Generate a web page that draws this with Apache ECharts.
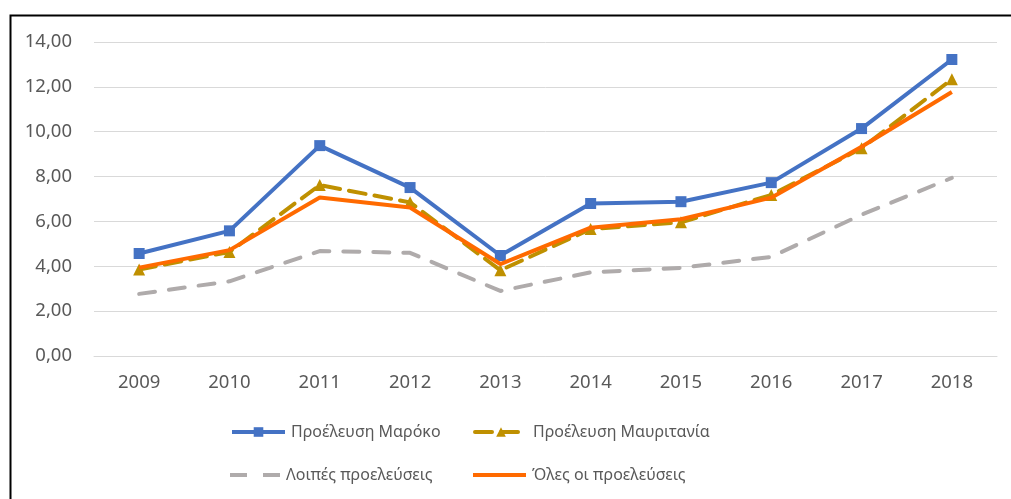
<!DOCTYPE html>
<html>
<head>
<meta charset="utf-8">
<script src="https://cdn.jsdelivr.net/npm/echarts@6/dist/echarts.min.js"></script>
<style>
  html, body { margin: 0; padding: 0; background: #fff; }
  #main { width: 1011px; height: 499px; }
</style>
</head>
<body>
<div id="main"></div>
<script>
// χρονιές και τιμές ανά προέλευση
var years = ['2009', '2010', '2011', '2012', '2013', '2014', '2015', '2016', '2017', '2018'];
var morocco = [4.57, 5.58, 9.38, 7.51, 4.48, 6.80, 6.88, 7.73, 10.14, 13.22];
var mauritania = [3.86, 4.64, 7.62, 6.85, 3.82, 5.66, 5.96, 7.18, 9.26, 12.34];
var others = [2.77, 3.33, 4.68, 4.60, 2.90, 3.73, 3.93, 4.42, 6.30, 7.94];
var all = [3.94, 4.72, 7.07, 6.62, 4.10, 5.72, 6.10, 7.06, 9.33, 11.77];
var names = ['Προέλευση Μαρόκο', 'Προέλευση Μαυριτανία', 'Λοιπές προελεύσεις', 'Όλες οι προελεύσεις'];

var myChart = echarts.init(document.getElementById('main'));
var font = 'Noto Sans';
var grey = '#595959';

function leg(i, left, top, w, h, icon) {
    var item = { name: names[i] };
    if (icon) item.icon = icon;
    return {
        data: [item], left: left, top: top, padding: 0,
        itemWidth: w, itemHeight: h,
        lineStyle: { width: 4 },
        textStyle: { color: grey, fontSize: 16, fontFamily: font, padding: [0, 0, 0, 1] },
        selectedMode: false
    };
}

option = {
    animation: false,
    backgroundColor: '#fff',
    graphic: [{
        type: 'rect', left: 8, top: 13,
        shape: { width: 1020, height: 500 },
        style: { fill: 'none', stroke: '#000', lineWidth: 2 }
    }],
    grid: { left: 94, right: 14, top: 42, bottom: 143 },
    legend: [
        leg(0, 230, 424, 53, 12),
        leg(1, 473, 424, 52, 12),
        leg(2, 230, 467, 50, 4, 'path://M0,0 h17 v4 h-17 Z M33,0 h17 v4 h-17 Z'),
        leg(3, 473, 467, 53, 4, 'rect')
    ],
    xAxis: {
        type: 'category',
        data: years,
        axisLine: { show: true, lineStyle: { color: '#d9d9d9', width: 1 } },
        axisTick: { show: false },
        axisLabel: { color: grey, fontSize: 18.5, fontFamily: font, margin: 17 }
    },
    yAxis: {
        type: 'value',
        min: 0, max: 14, interval: 2,
        axisLine: { show: false },
        axisTick: { show: false },
        splitLine: { lineStyle: { color: '#d9d9d9', width: 1 } },
        axisLabel: {
            color: grey, fontSize: 18.5, fontFamily: font, margin: 22,
            formatter: function (v) { return v.toFixed(2).replace('.', ','); }
        }
    },
    series: [
        {
            name: names[0], type: 'line', data: morocco,
            symbol: 'rect', symbolSize: 11,
            itemStyle: { color: '#4472C4' },
            lineStyle: { color: '#4472C4', width: 4 }, z: 4
        },
        {
            name: names[1], type: 'line', data: mauritania,
            symbol: 'triangle', symbolSize: 12,
            itemStyle: { color: '#BF9000' },
            lineStyle: { color: '#BF9000', width: 4, type: [17, 9], cap: 'round' }, z: 3
        },
        {
            name: names[2], type: 'line', data: others,
            symbol: 'none',
            itemStyle: { color: '#AFABAB' },
            lineStyle: { color: '#AFABAB', width: 4, type: [16, 14], cap: 'round' }, z: 2
        },
        {
            name: names[3], type: 'line', data: all,
            symbol: 'none',
            itemStyle: { color: '#FF6A00' },
            lineStyle: { color: '#FF6A00', width: 4 }, z: 5
        }
    ]
};

myChart.setOption(option);
</script>
</body>
</html>
